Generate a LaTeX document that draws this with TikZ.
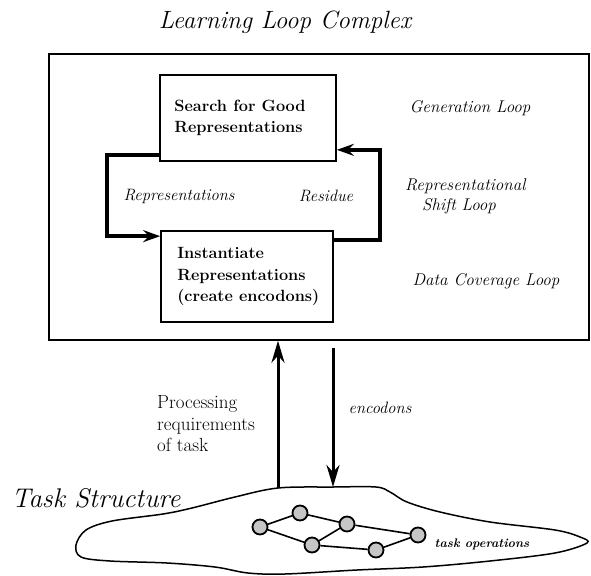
\documentclass[tikz,border=0pt]{standalone}
\usetikzlibrary{arrows.meta,calc}
\begin{document}
\begin{tikzpicture}[x=1pt,y=-1pt,
  every node/.style={inner sep=0pt},
  outerbox/.style={draw, line width=1.4pt},
  procbox/.style={draw, line width=1.7pt},
  proctext/.style={anchor=west, align=left, font=\fontsize{16.3}{21.5}\selectfont\bfseries},
  loopline/.style={line width=3.6pt, line join=miter, -{Stealth[length=17pt,width=12pt,inset=6pt]}},
  varrow/.style={line width=3pt, -{Stealth[length=22pt,width=13pt,inset=7pt]}},
  looplabel/.style={font=\fontsize{17}{20}\selectfont\itshape},
  flowlabel/.style={font=\fontsize{16.5}{20}\selectfont\itshape},
  big/.style={font=\fontsize{25}{30}\selectfont\itshape},
  op/.style={circle, draw, line width=1.8pt, fill=gray!45, minimum size=15pt},
  opedge/.style={line width=1.6pt}
]
\useasboundingbox (0,0) rectangle (591,575);

% title
\node[big] (title) at (285,22) {Learning Loop Complex};

% outer box
\node[outerbox, minimum width=540pt, minimum height=286pt] (outer) at (319,197) {};

% process boxes
\node[procbox, minimum width=176pt, minimum height=86pt] (top) at (248,118) {};
\node[proctext] (toptext) at ([xshift=15pt]top.west) {Search for Good\\Representations};
\node[procbox, minimum width=172pt, minimum height=91pt] (bot) at (247,276.5) {};
\node[proctext] (bottext) at ([xshift=17pt]bot.west) {Instantiate\\Representations\\(create encodons)};

% loops
\draw[loopline] ([yshift=7pt]top.south west) -- ++(-52,0) |- ([yshift=-6pt]bot.north west);
\draw[loopline] ([yshift=-10pt]bot.north east) -- ++(46,0) |- ([yshift=12pt]top.south east);

\node[flowlabel] (lrep) at (179,196) {Representations};
\node[flowlabel] (lres) at (326,196) {Residue};

% loop names
\node[looplabel] (gen) at (470,108) {Generation Loop};
\node[looplabel, align=left, anchor=west] (shift) at (405,196) {Representational\\\hspace*{17pt}Shift Loop};
\node[looplabel] (data) at (486,281) {Data Coverage Loop};

% task structure blob
\draw[line width=1.5pt] plot[smooth cycle, tension=0.55] coordinates {
  (192,508) (163,514) (112,521) (86,530) (76,545) (81,557) (110,561) (167,563)
  (215,567) (248,573) (285,574) (357,570) (423,567) (490,561) (555,553) (587,543)
  (580,537) (555,530) (490,522) (440,512) (407,502) (390,492) (376,487) (333,487) (278,488) (235,497)
};
\coordinate (upfoot) at (278,488);
\coordinate (dnend) at (333,487);

% vertical arrows
\draw[varrow] (upfoot) -- (upfoot |- outer.south);
\draw[varrow] ($(outer.south -| dnend)+(0,7)$) -- (dnend);

\node[font=\fontsize{19}{21.5}\selectfont, align=left, anchor=west] (proc) at (157,424)
  {Processing\\requirements\\of task};
\node[flowlabel] (enc) at (380,408) {encodons};

\node[font=\fontsize{27}{30}\selectfont\itshape] (task) at (96,498) {Task Structure};

% task operations graph
\node[op] (n1) at (260,527) {};
\node[op] (n2) at (300,513) {};
\node[op] (n3) at (347,524) {};
\node[op] (n4) at (312,545) {};
\node[op] (n5) at (376,550) {};
\node[op] (n6) at (418,535) {};
\draw[opedge] (n1) -- (n2);
\draw[opedge] (n2) -- (n3);
\draw[opedge] (n1) -- (n4);
\draw[opedge] (n4) -- (n3);
\draw[opedge] (n3) -- (n6);
\draw[opedge] (n4) -- (n5);
\draw[opedge] (n5) -- (n6);
\node[font=\fontsize{12.5}{15}\selectfont\bfseries\itshape] (tops) at (482,544) {task operations};
\end{tikzpicture}
\end{document}
